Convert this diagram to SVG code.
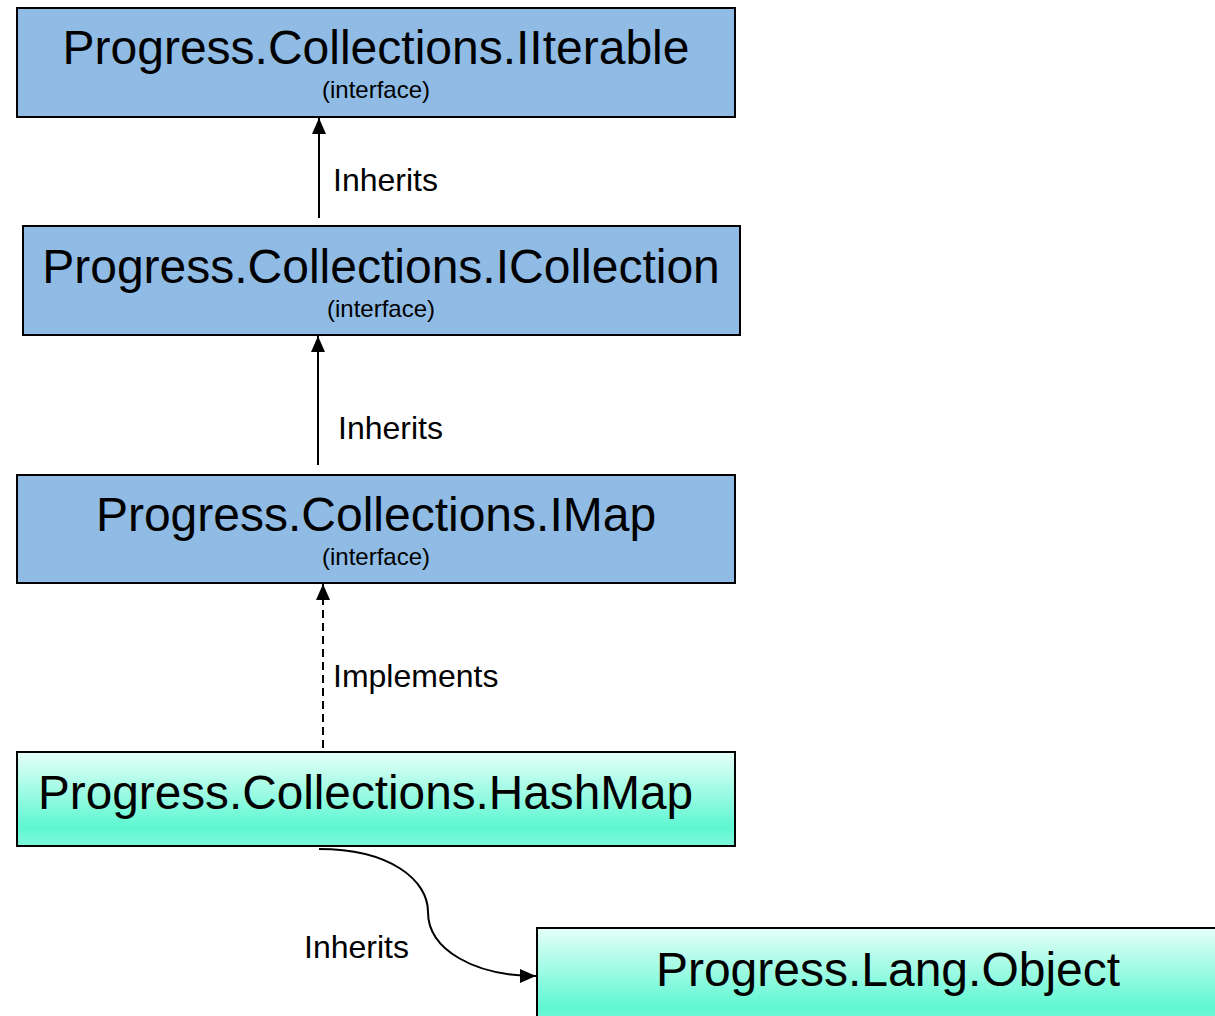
<svg xmlns="http://www.w3.org/2000/svg" width="1215" height="1016" viewBox="0 0 1215 1016">
<defs>
<linearGradient id="g" x1="0" y1="0" x2="0" y2="1">
<stop offset="0" stop-color="#e6fff8"/>
<stop offset="0.8" stop-color="#5ef7d2"/>
<stop offset="1" stop-color="#80f8dc"/>
</linearGradient>
<marker id="ah" markerWidth="16" markerHeight="14" viewBox="0 0 16 14" refX="16" refY="7" orient="auto" markerUnits="userSpaceOnUse">
<path d="M0,0 L16,7 L0,14 z" fill="#000"/>
</marker>
</defs>
<style>
.iface{fill:#8fbbe4;stroke:#000;stroke-width:2}
.cls{fill:url(#g);stroke:#000;stroke-width:2}
.t{font-family:"Liberation Sans",Arial,sans-serif;font-size:48px;fill:#000}
.s{font-family:"Liberation Sans",Arial,sans-serif;font-size:24px;fill:#000}
.l{font-family:"Liberation Sans",Arial,sans-serif;font-size:32px;fill:#000}
.c{fill:none;stroke:#000;stroke-width:2;marker-end:url(#ah)}
</style>
<rect width="1215" height="1016" fill="#fff"/>
<g id="iiterable">
<rect class="iface" x="17" y="8" width="718" height="109"/>
<text class="t" x="376" y="64" text-anchor="middle">Progress.Collections.IIterable</text>
<text class="s" x="376" y="98" text-anchor="middle">(interface)</text>
</g>
<g id="icollection">
<rect class="iface" x="23" y="226" width="717" height="109"/>
<text class="t" x="381" y="283" text-anchor="middle">Progress.Collections.ICollection</text>
<text class="s" x="381" y="317" text-anchor="middle">(interface)</text>
</g>
<g id="imap">
<rect class="iface" x="17" y="475" width="718" height="108"/>
<text class="t" x="376" y="531" text-anchor="middle">Progress.Collections.IMap</text>
<text class="s" x="376" y="565" text-anchor="middle">(interface)</text>
</g>
<g id="hashmap">
<rect class="cls" x="17" y="752" width="718" height="94"/>
<text class="t" x="38" y="809" textLength="655" lengthAdjust="spacingAndGlyphs">Progress.Collections.HashMap</text>
</g>
<g id="object">
<rect class="cls" x="537" y="928" width="690" height="100"/>
<text class="t" x="888" y="986" text-anchor="middle">Progress.Lang.Object</text>
</g>
<g id="connectors">
<path class="c" d="M319,218 L319,118"/>
<text class="l" x="333" y="191">Inherits</text>
<path class="c" d="M318,465 L318,336"/>
<text class="l" x="338" y="439">Inherits</text>
<path class="c" d="M323,748 L323,584" stroke-dasharray="8,5"/>
<text class="l" x="333" y="687">Implements</text>
<path class="c" d="M319,849 C390,849 428,880 428,912 C428,950 475,976 536,976"/>
<text class="l" x="304" y="958">Inherits</text>
</g>
</svg>
